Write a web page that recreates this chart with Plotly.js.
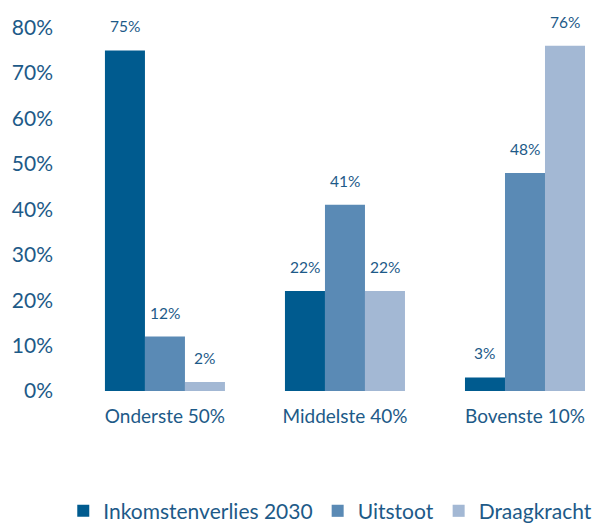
<!DOCTYPE html>
<html><head><meta charset="utf-8">
<script src="https://cdn.plot.ly/plotly-3.0.1.min.js"></script>
<style>html,body{margin:0;padding:0;background:#fff}#chart{width:606px;height:527px}</style>
</head><body><div id="chart"></div>
<script>
const categories = ["Onderste 50%", "Middelste 40%", "Bovenste 10%"];
const seriesNames = ["Inkomstenverlies 2030", "Uitstoot", "Draagkracht"];
const inkomstenverlies = [75, 22, 3];
const uitstoot = [12, 41, 48];
const draagkracht = [2, 22, 76];
const yTicks = [0, 10, 20, 30, 40, 50, 60, 70, 80];
const yTickLabels = ["0%", "10%", "20%", "30%", "40%", "50%", "60%", "70%", "80%"];

const colors = ["#005b8f", "#5a8ab5", "#a3b8d4"];
const textColor = "#1d5a88";
const allSeries = [inkomstenverlies, uitstoot, draagkracht];

const traces = allSeries.map((vals, i) => ({
  type: "bar", name: seriesNames[i], x: categories, y: vals,
  marker: {color: colors[i]}, hoverinfo: "none"
}));

const offsets = [-1/3 * 2/3, 0, 1/3 * 2/3];
const annotations = [];
allSeries.forEach((vals, i) => {
  vals.forEach((v, j) => {
    annotations.push({
      x: j + offsets[i], y: v, xref: "x", yref: "y",
      text: v + "%", showarrow: false, yanchor: "bottom", yshift: 13,
      font: {size: 15.5, color: textColor}
    });
  });
});

const layout = {
  width: 606, height: 527,
  margin: {l: 60, r: 0, t: 5, b: 136, autoexpand: false},
  paper_bgcolor: "#fff", plot_bgcolor: "#fff",
  font: {family: "Lato, 'Open Sans', sans-serif", color: textColor},
  barmode: "group", bargap: 1/3, bargroupgap: 0,
  xaxis: {range: [-0.583, 2.45], showgrid: false, zeroline: false, showline: false,
          ticks: "", ticklabelstandoff: 12, tickfont: {size: 19, color: textColor}, fixedrange: true},
  yaxis: {range: [0, 85], tickvals: yTicks, ticktext: yTickLabels, showgrid: false,
          zeroline: false, showline: false, ticks: "", ticklabelstandoff: 6,
          tickfont: {size: 21, color: textColor}, fixedrange: true},
  showlegend: true,
  legend: {orientation: "h", xref: "container", yref: "container", x: 0.545, xanchor: "center",
           y: 0.03, yanchor: "middle", itemwidth: 30,
           font: {size: 21, color: textColor}, traceorder: "normal"},
  annotations: annotations
};

Plotly.newPlot("chart", traces, layout, {displayModeBar: false, staticPlot: true});
</script></body></html>
